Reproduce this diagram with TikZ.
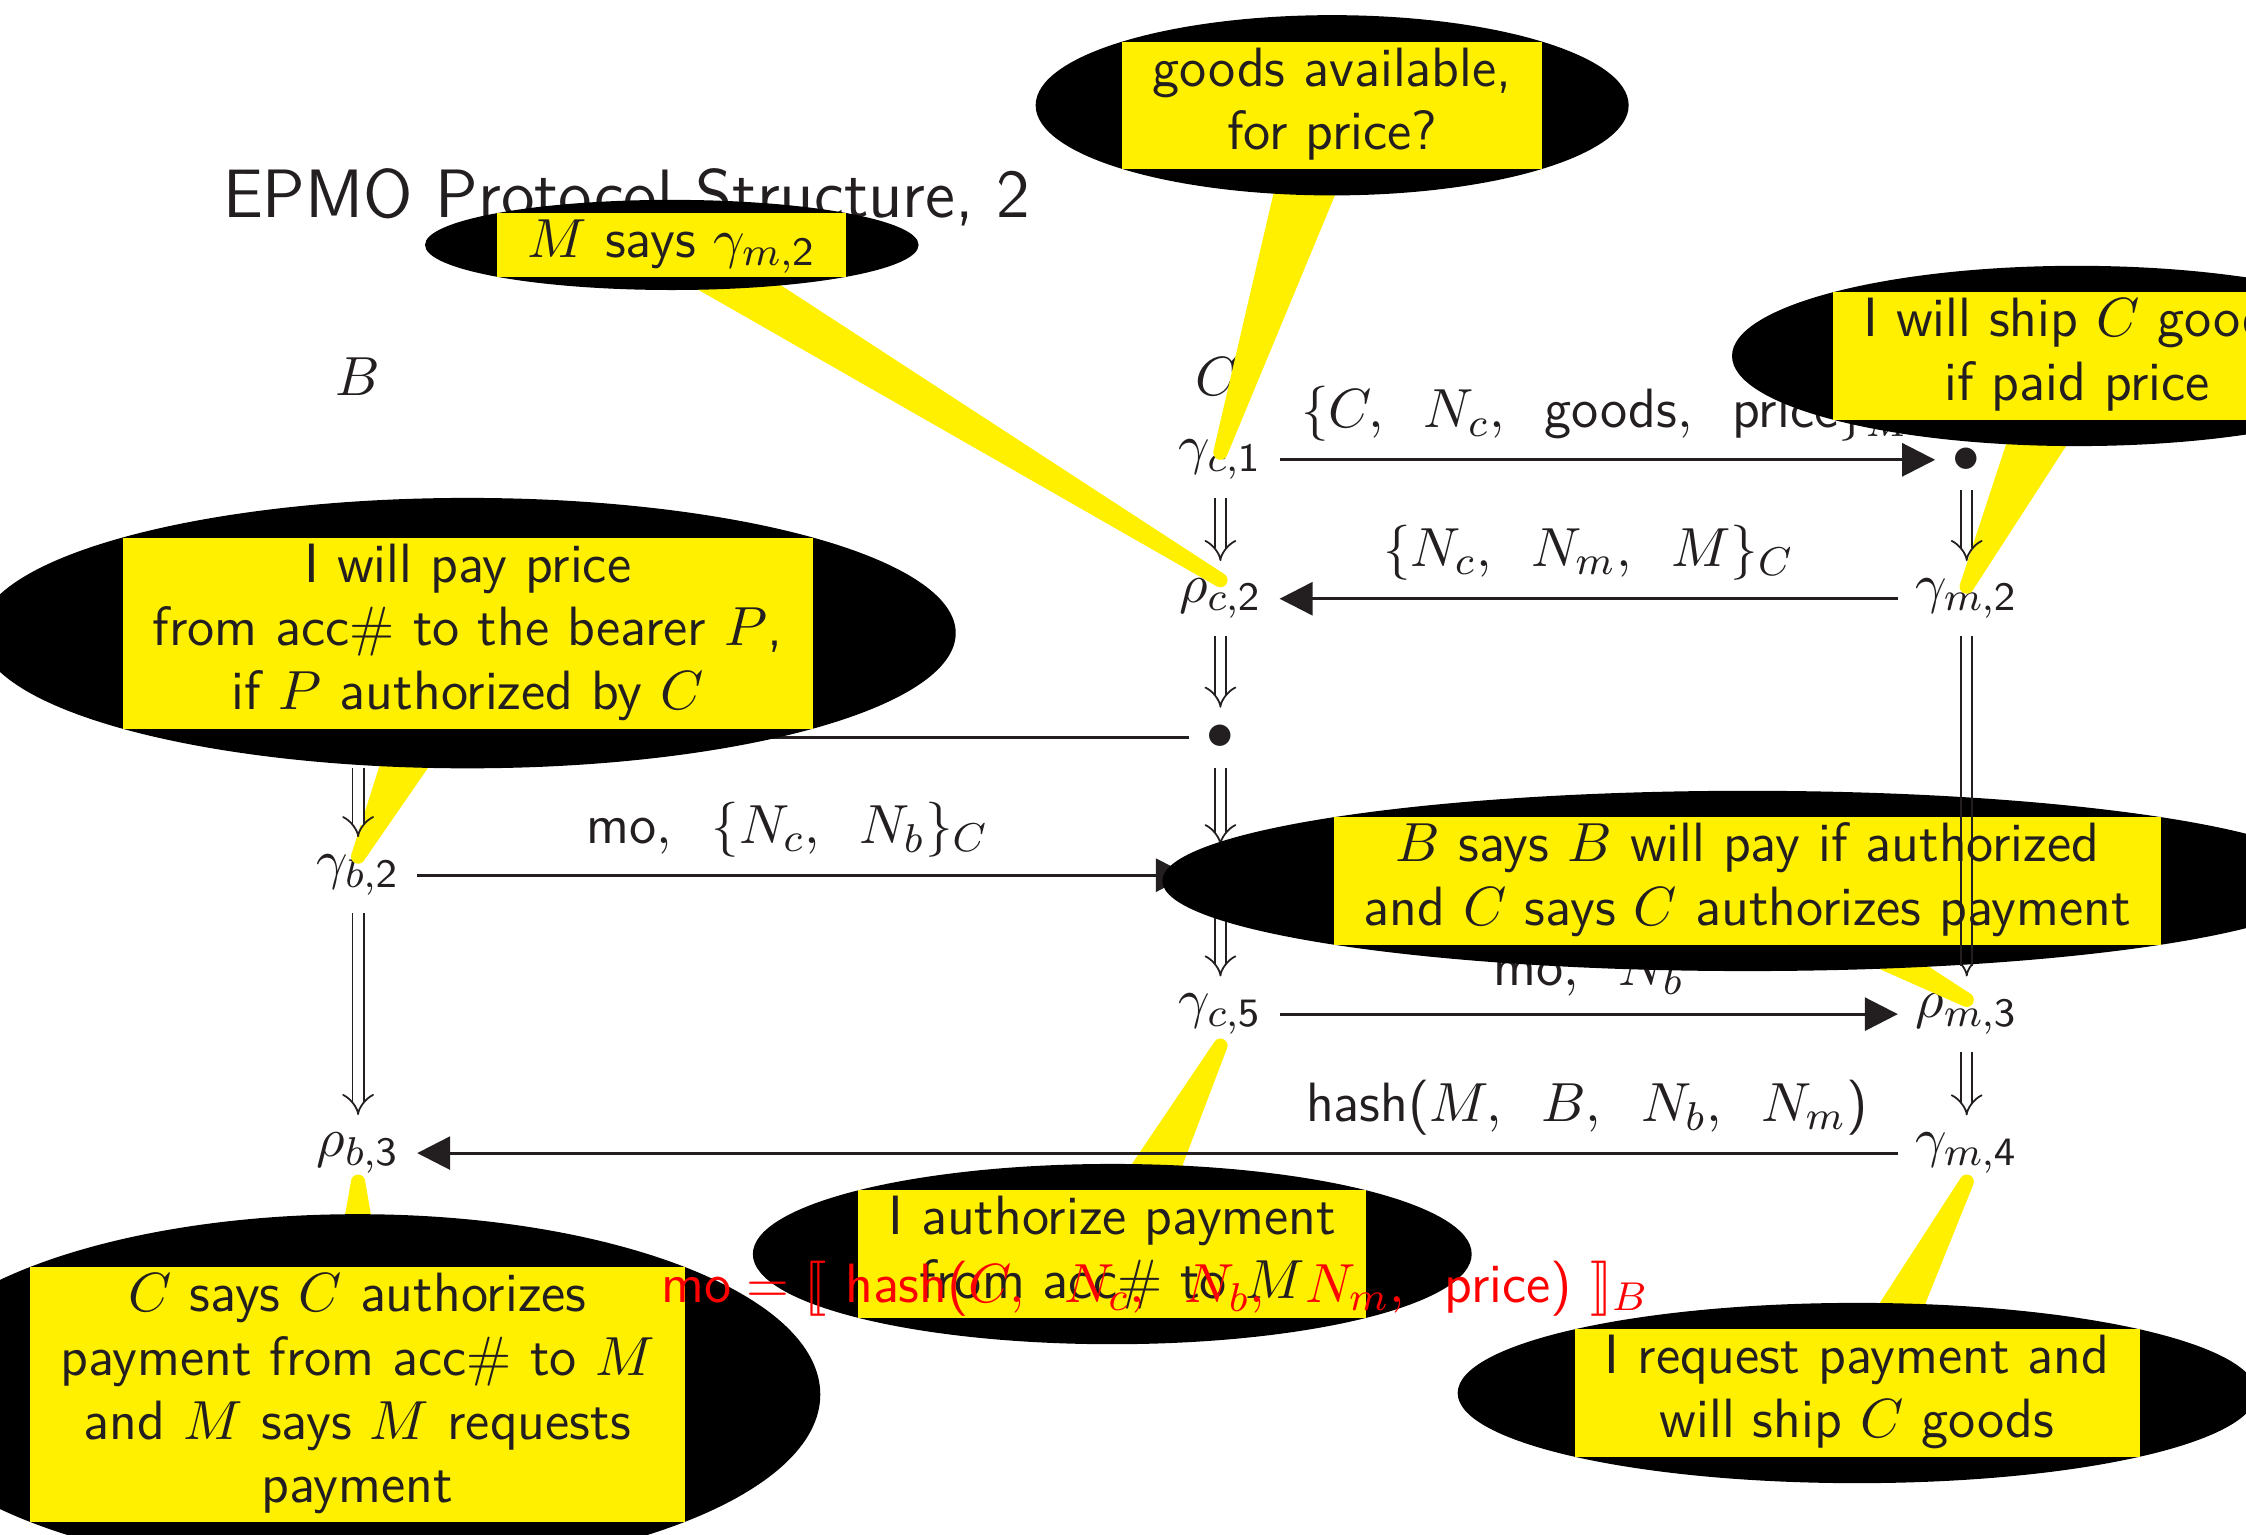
\documentclass[tikz,border=0pt]{standalone}
\usepackage{amsmath}
\usepackage{stmaryrd}
\usetikzlibrary{arrows.meta, shapes.geometric, calc}

\DeclareSymbolFont{operators}{OT1}{cmss}{m}{n}

\definecolor{ink}{RGB}{35,31,32}
\definecolor{notey}{RGB}{255,240,0}
\setlength{\fboxsep}{0pt}

% yellow tail from a bubble centre (#1) to its tip (#2), half width #3 at the centre
\newcommand{\balloontail}[3]{%
	\fill[notey] ($(#1)!#3!90:(#2)$) -- ($(#2)!0.05cm!-90:(#1)$)
		-- ($(#2)!0.05cm!90:(#1)$) -- ($(#1)!#3!-90:(#2)$) -- cycle;
	\fill[notey] (#2) circle (0.05cm);}

\begin{document}
\begin{tikzpicture}[font=\fontsize{11}{12.66}\selectfont\sffamily, text=ink,
		msg/.style={ink, semithick, -{Triangle[length=2.3mm, width=2.3mm]}},
		seq/.style={ink, double, line width=0.35pt, double distance=1.9pt, -Implies},
		rail/.style={ink, line width=0.35pt},
		bubble/.style={ellipse, fill=black, inner sep=0pt}]

		\clip (0,0) rectangle (15.68,-10.71);

		\node[anchor=base west, inner sep=0pt, font=\fontsize{13.6}{16}\selectfont\sffamily] (title) at (1.55,-1.52) {EPMO Protocol Structure, 2};

		\node (B) at (2.50,-2.63) {$B$};
		\node (C) at (8.50,-2.63) {$C$};

		\node (gc1) at (8.52,-3.21) {$\gamma_{c,1}$};
		\node (mdot) at (13.73,-3.21) {$\bullet$};
		\node (rc2) at (8.52,-4.18) {$\rho_{c,2}$};
		\node (gm2) at (13.73,-4.18) {$\gamma_{m,2}$};
		\node (bdot) at (2.50,-5.15) {$\bullet$};
		\node (cdot) at (8.52,-5.15) {$\bullet$};
		\node (gb2) at (2.50,-6.11) {$\gamma_{b,2}$};
		\node (cdot2) at (8.52,-6.11) {$\bullet$};
		\node (gc5) at (8.52,-7.08) {$\gamma_{c,5}$};
		\node (rm3) at (13.73,-7.08) {$\rho_{m,3}$};
		\node (rb3) at (2.50,-8.05) {$\rho_{b,3}$};
		\node (gm4) at (13.73,-8.05) {$\gamma_{m,4}$};

		% bubble centres and tips
		\coordinate (goodsc) at (9.30,-0.735);
		\coordinate (goodstip) at ([yshift=0.05cm]gc1.center);
		\coordinate (msaysc) at (4.69,-1.71);
		\coordinate (msaystip) at ([yshift=0.13cm]rc2.center);
		\coordinate (shipc) at (14.50,-2.485);
		\coordinate (shiptip) at ([yshift=0.085cm]gm2.center);
		\coordinate (payc) at (3.265,-4.42);
		\coordinate (paytip) at ([yshift=0.13cm]gb2.center);
		\coordinate (bsaysc) at (12.20,-6.15);
		\coordinate (bsaystip) at ([yshift=0.10cm]rm3.center);
		\coordinate (authc) at (7.765,-8.755);
		\coordinate (authtip) at ([yshift=-0.22cm]gc5.center);
		\coordinate (csaysc) at (2.495,-9.735);
		\coordinate (csaystip) at ([yshift=-0.20cm]rb3.center);
		\coordinate (reqc) at (12.965,-9.725);
		\coordinate (reqtip) at ([yshift=-0.20cm]gm4.center);

		\balloontail{goodsc}{goodstip}{0.26cm}
		\balloontail{msaysc}{msaystip}{0.18cm}
		\balloontail{shipc}{shiptip}{0.28cm}
		\balloontail{payc}{paytip}{0.31cm}
		\balloontail{bsaysc}{bsaystip}{0.19cm}
		\balloontail{authc}{authtip}{0.24cm}
		\balloontail{csaysc}{csaystip}{0.31cm}
		\balloontail{reqc}{reqtip}{0.21cm}

		\draw[msg] (gc1) -- (mdot) node[midway, above] {$\{C,\;\;N_c,\;\;\mbox{goods},\;\;\mbox{price}\}_M$};
		\draw[msg] (gm2) -- (rc2) node[midway, above] {$\{N_c,\;\;N_m,\;\;M\}_C$};
		\draw[msg] (cdot) -- (bdot);
		\draw[msg] (gb2) -- (cdot2) node[pos=0.48, above] {$\mbox{mo},\;\;\{N_c,\;\;N_b\}_C$};
		\draw[msg] (gc5) -- (rm3) node[midway, above] {$\mbox{mo},\;\;N_b$};
		\draw[msg] (gm4) -- (rb3) node[pos=0.21, above] {$\mbox{hash}(M,\;\;B,\;\;N_b,\;\;N_m)$};

		\draw[seq] (bdot) -- (gb2);
		\draw[seq] (gb2) -- (rb3);
		\draw[seq] (gc1) -- (rc2);
		\draw[seq] (rc2) -- (cdot);
		\draw[seq] (cdot) -- (cdot2);
		\draw[seq] (cdot2) -- (gc5);
		\draw[seq] (mdot) -- (gm2);
		\draw[seq] (gm2) -- (rm3);
		\draw[seq] (rm3) -- (gm4);

		\node[bubble] (goods) at (goodsc) {\colorbox{notey}{\begin{tabular}{c}goods available,\\ for price?\end{tabular}}};
		\node[bubble] (msays) at (msaysc) {\colorbox{notey}{\begin{tabular}{c}$M$ says $\gamma_{m,2}$\end{tabular}}};
		\node[bubble] (ship) at (shipc) {\colorbox{notey}{\begin{tabular}{c}I will ship $C$ goods\\ if paid price\end{tabular}}};
		\node[bubble] (pay) at (payc) {\colorbox{notey}{\begin{tabular}{c}I will pay price\\ from acc\# to the bearer $P$,\\ if $P$ authorized by $C$\end{tabular}}};
		\node[bubble] (bsays) at (bsaysc) {\colorbox{notey}{\begin{tabular}{c}$B$ says $B$ will pay if authorized\\ and $C$ says $C$ authorizes payment\end{tabular}}};
		\node[bubble] (auth) at (authc) {\colorbox{notey}{\begin{tabular}{c}I authorize payment\\ from acc\# to $M$\end{tabular}}};
		\node[bubble] (csays) at (csaysc) {\colorbox{notey}{\begin{tabular}{c}$C$ says $C$ authorizes\\ payment from acc\# to $M$\\ and $M$ says $M$ requests\\ payment\end{tabular}}};
		\node[bubble] (req) at (reqc) {\colorbox{notey}{\begin{tabular}{c}I request payment and\\ will ship $C$ goods\end{tabular}}};

		% the two rails of gm2 => rm3 stay visible over the bubble
		\draw[rail, shorten >=0.7mm] ([xshift=-1.125pt]gm2.south) -- ([xshift=-1.125pt]rm3.north);
		\draw[rail, shorten >=0.7mm] ([xshift=1.125pt]gm2.south) -- ([xshift=1.125pt]rm3.north);

		\node[text=red, anchor=base, inner sep=0pt] (mo) at (8.065,-9.09) {$\mbox{mo} = \llbracket\ \mbox{hash}(C,\;\;N_c,\;\;N_b,\;\;N_m,\;\;\mbox{price})\ \rrbracket_B$};
	\end{tikzpicture}
\end{document}
